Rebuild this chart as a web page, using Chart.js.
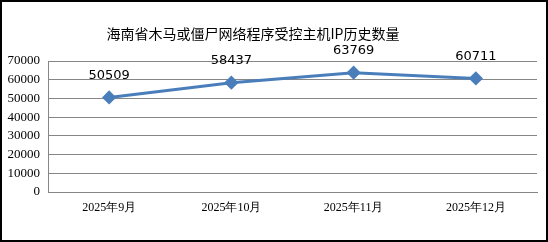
<!DOCTYPE html>
<html>
<head>
<meta charset="utf-8">
<script src="https://cdn.jsdelivr.net/npm/chart.js@4/dist/chart.umd.min.js"></script>
<style>
  body { margin: 0; background: #fff; }
  #wrap { width: 548px; height: 242px; box-sizing: border-box; border: 2px solid #000; }
  #wrap canvas { display: block; }
</style>
</head>
<body>
<div id="wrap"><canvas id="c" width="544" height="238"></canvas></div>
<script>
var chartTitle = '海南省木马或僵尸网络程序受控主机IP历史数量';
var months = ['2025年9月', '2025年10月', '2025年11月', '2025年12月'];
var hostCounts = [50509, 58437, 63769, 60711];
var yMax = 70000, yStep = 10000;

// title drawn by hand so it can sit a bit left of centre like the original
var titlePlugin = {
    id: 'handTitle',
    afterDraw: function (chart) {
        var ctx = chart.ctx;
        ctx.save();
        ctx.font = '14px "Noto Sans CJK SC", sans-serif';
        ctx.fillStyle = '#000';
        ctx.textAlign = 'center';
        ctx.textBaseline = 'middle';
        ctx.fillText(chartTitle, 251, 32);
        ctx.restore();
    }
};

// value labels above each point
var valueLabels = {
    id: 'valueLabels',
    afterDatasetsDraw: function (chart) {
        var ctx = chart.ctx;
        var meta = chart.getDatasetMeta(0);
        ctx.save();
        ctx.font = '13px "DejaVu Sans", sans-serif';
        ctx.fillStyle = '#000';
        ctx.textAlign = 'center';
        ctx.textBaseline = 'middle';
        meta.data.forEach(function (pt, i) {
            ctx.fillText(String(hostCounts[i]), pt.x, pt.y - 22);
        });
        ctx.restore();
    }
};

new Chart(document.getElementById('c'), {
    type: 'line',
    data: {
        labels: months,
        datasets: [{
            data: hostCounts,
            borderColor: '#4a7ebb',
            backgroundColor: '#4a7ebb',
            borderWidth: 3,
            pointStyle: 'rectRot',
            pointRadius: 5,
            pointHoverRadius: 5,
            tension: 0
        }]
    },
    options: {
        responsive: false,
        animation: false,
        events: [],
        layout: { padding: { top: 59, left: 0, right: 9, bottom: 0 } },
        plugins: {
            legend: { display: false },
            title: { display: false },
            tooltip: { enabled: false }
        },
        scales: {
            x: {
                offset: true,
                grid: { display: false, drawTicks: false },
                border: { display: true, color: '#868686', width: 1 },
                ticks: {
                    padding: 9,
                    color: '#000',
                    font: { family: '"Liberation Serif", serif', size: 12 }
                },
                afterFit: function (axis) { axis.height = 48; }
            },
            y: {
                min: 0,
                max: yMax,
                grid: { color: '#868686', drawTicks: false },
                border: { display: true, color: '#868686', width: 1 },
                ticks: {
                    stepSize: yStep,
                    padding: 8,
                    color: '#000',
                    font: { family: '"Liberation Serif", serif', size: 13 },
                    callback: function (v) { return String(v); }
                },
                afterFit: function (axis) { axis.width = 46; }
            }
        }
    },
    plugins: [titlePlugin, valueLabels]
});
</script>
</body>
</html>
